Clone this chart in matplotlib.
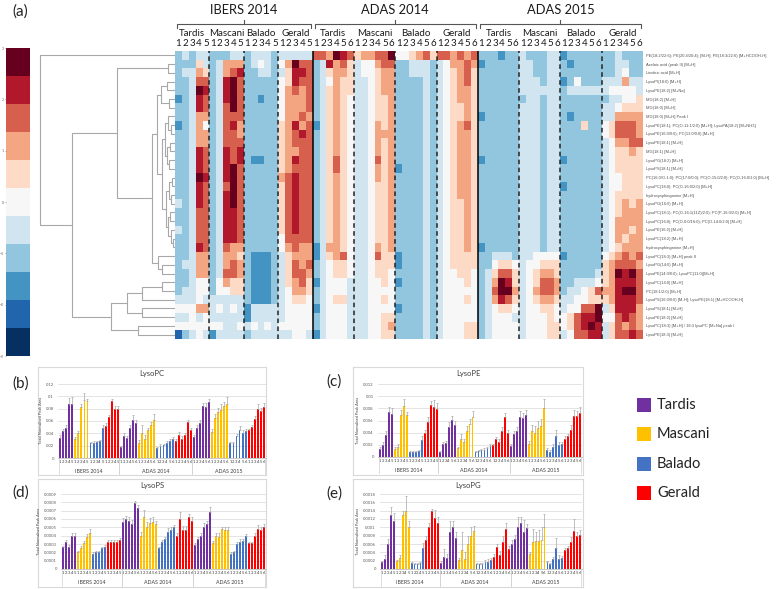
import numpy as np
import matplotlib
matplotlib.use('Agg')
import matplotlib.pyplot as plt
from matplotlib.transforms import blended_transform_factory
from matplotlib.patches import Rectangle
from matplotlib.lines import Line2D

W, H = 778, 589

sites = ['IBERS 2014', 'ADAS 2014', 'ADAS 2015']
reps = [5, 6, 6]
cultivars = ['Tardis', 'Mascani', 'Balado', 'Gerald']
cult_colors = ['#7030A0', '#FFC000', '#4472C4', '#FF0000']

metabolites = [
    'PE(18:2/22:6); PE(20:4/20:4); [M-H]; PE(18:3/22:6) [M+HCOOH-H]',
    'Azelaic acid (peak II) [M+H]',
    'Linoleic acid [M+H]',
    'LysoPI(18:0) [M+H]',
    'LysoPE(18:2) [M+Na]',
    'MG(18:2) [M+H]',
    'MG(18:0) [M+H]',
    'MG(18:0) [M+H] Peak I',
    'LysoPE(18:1); PC(O-11:1/2:0) [M+H]; LysoPA(18:2) [M+NH3]',
    'LysoPE(16:0/0:0); PC(13:0/0:0) [M+H]',
    'LysoPE(18:1) [M+H]',
    'MG(18:1) [M+H]',
    'LysoPG(18:2) [M+H]',
    'LysoPS(18:1) [M+H]',
    'PC(16:0/O-1:0); PC(17:0/0:0); PC(O-15:0/2:0); PC(O-16:0/1:0) [M+H]',
    'LysoPC(18:0); PC(O-16:0/2:0) [M+H]',
    'hydroxysphinganine [M+H]',
    'LysoPG(16:0) [M+H]',
    'LysoPC(18:1); PC(O-16:1(11Z)/2:0); PC(P-16:0/2:0) [M+H]',
    'LysoPC(16:0); PC(O-0:0/16:0); PC(O-14:0/2:0) [M+H]',
    'LysoPE(16:2) [M+H]',
    'LysoPC(18:2) [M+H]',
    'hydroxysphinganine [M+H]',
    'LysoPC(18:3) [M+H] peak II',
    'LysoPG(14:0) [M+H]',
    'LysoPE(14:0/0:0); LysoPC(11:0)[M+H]',
    'LysoPC(14:0) [M+H]',
    'PC(18:1/2:0) [M+H]',
    'LysoPS(16:0/0:0) [M-H]; LysoPE(18:1) [M+HCOOH-H]',
    'LysoPS(18:1) [M+H]',
    'LysoPE(18:2) [M+H]',
    'LysoPC(18:3) [M+H] / 18:3 lysoPC [M+Na] peak I',
    'LysoPE(18:3) [M+H]',
]

# colour level per cell, 0 (dark blue) .. A (dark red)
# IBERS T M B G | ADAS14 T M B G | ADAS15 T M B G
heat_rows = [
    '34344 33344 34443 44444  887A98 67788A 556786 887878  333233 433344 233333 334333',
    '33364 34777 34543 57A88  349786 455788 334443 457787  233333 443344 323333 334433',
    '34476 34789 33443 46998  346776 455677 334443 456786  333333 443344 333333 334533',
    '33488 349A8 33333 56988  345766 445677 333343 456786  333333 444344 235333 444744',
    '334A9 349A8 33333 57878  346766 445677 333343 456776  333333 444444 344444 455554',
    '23498 349A8 33233 57778  346765 445667 333343 456776  333333 344344 333333 344556',
    '33498 348A8 33333 57778  346765 445667 333343 456676  333333 444344 333333 445666',
    '33477 34888 33333 57787  346765 445667 333343 456676  233333 444344 323333 447777',
    '23475 34897 33333 67978  246765 445767 333343 456786  333333 444344 333633 568887',
    '33477 34887 33333 67898  346765 445777 333343 456776  333333 444344 333333 568887',
    '33477 34888 33333 67888  346765 445767 333343 456776  333333 444344 333333 457788',
    '33498 34989 33333 67788  346765 445767 333343 456776  333333 444344 333333 456676',
    '33498 34989 32233 67988  346865 445867 333343 456776  233333 444344 233333 456666',
    '33498 349A8 33333 67888  346865 445767 233343 456776  333333 444344 333333 456666',
    '334A9 349A8 33333 78988  346765 445767 333343 456776  333333 444344 333333 455666',
    '33498 348A8 33333 68988  346765 445667 333343 456776  333333 444344 233333 455666',
    '33498 349A8 33333 68988  346765 445667 333343 456776  333333 444344 333333 456666',
    '43498 349A8 33333 68988  346765 445667 333343 456676  333333 444344 333333 456767',
    '33488 34998 33333 68988  346765 445667 333343 456676  333333 444344 333333 456777',
    '33488 34998 33333 68988  346765 445667 333343 456676  333333 444344 333333 457777',
    '43488 34998 33333 68988  346765 445667 333343 456676  333333 444344 333333 457767',
    '33488 34998 33333 58888  346765 445667 333343 456676  333333 444344 333333 457677',
    '33498 34877 33333 57877  247765 445767 333343 456676  233333 444344 333333 456777',
    '33477 34776 32223 46777  246785 445866 233343 456666  334443 445555 233333 567878',
    '34477 34787 32223 46878  345665 445666 233343 456666  335665 455666 333333 678887',
    '33477 34887 32223 46887  345665 445665 333343 455665  346886 456776 333334 67A9A8',
    '33455 35766 32223 46786  245554 445565 233343 455565  347A96 456887 334445 679998',
    '34455 35566 32223 45776  345554 445555 333343 455555  348AA7 457887 344568 779AA8',
    '44454 44444 32223 45665  345664 445565 333343 455565  347986 456776 445566 679998',
    '55577 45454 24444 45555  245554 445555 233343 455555  345665 455665 45588A 469997',
    '44545 44444 24444 45555  345554 445566 333343 455555  345554 455565 56899A 558987',
    '55555 55445 45454 55555  345554 445567 333343 455566  345555 455566 5689A9 468787',
    '13454 24444 34444 44554  245554 445566 333343 455566  345555 455566 458899 468898',
]

# dendrogram: (merge distance, upper child, lower child); ints are heatmap rows
dendro_tree = (135, 0, (103,
    (58, (7, 1, 2),
         (23, (18, (14, (8, 3, 4), (6, 5, 6)),
                   (13, (10, (7, 7, (4, 8, 9)), (8, (5, 10, 11), (6, 12, 13))),
                        (9, (6, (3, 14, 15), (4, 16, 17)),
                            (7, (5, 18, 19), (4, 20, (2, 21, 22)))))),
              (17, 23, (13, 24, 25)))),
    (64, (48, (33, (13, 26, 27), 28), (33, 29, 30)), (37, 31, 32))))

lysopc = [0.033, 0.043, 0.048, 0.087, 0.087, 0.031, 0.040, 0.082, 0.094, 0.092,
          0.024, 0.025, 0.026, 0.027, 0.048, 0.052, 0.066, 0.092, 0.080, 0.080,
          0.018, 0.036, 0.032, 0.048, 0.062, 0.057, 0.025, 0.040, 0.031, 0.045, 0.053, 0.062,
          0.016, 0.020, 0.021, 0.024, 0.028, 0.031, 0.028, 0.038, 0.031, 0.038, 0.058, 0.045,
          0.034, 0.049, 0.056, 0.084, 0.082, 0.091, 0.042, 0.065, 0.075, 0.078, 0.085, 0.087,
          0.024, 0.024, 0.035, 0.045, 0.040, 0.043, 0.045, 0.050, 0.063, 0.079, 0.076, 0.083]
lysopc_err = [0.004, 0.004, 0.005, 0.010, 0.012, 0.003, 0.004, 0.006, 0.011, 0.004,
              0.002, 0.002, 0.002, 0.003, 0.005, 0.005, 0.004, 0.003, 0.005, 0.005,
              0.002, 0.004, 0.003, 0.006, 0.008, 0.005, 0.005, 0.013, 0.006, 0.004, 0.005, 0.009,
              0.002, 0.002, 0.002, 0.003, 0.003, 0.003, 0.003, 0.004, 0.004, 0.003, 0.004, 0.003,
              0.003, 0.005, 0.006, 0.006, 0.008, 0.004, 0.005, 0.006, 0.006, 0.010, 0.006, 0.012,
              0.002, 0.002, 0.004, 0.007, 0.005, 0.004, 0.002, 0.003, 0.005, 0.008, 0.005, 0.006]

lysope = [0.0013, 0.0020, 0.0036, 0.0074, 0.0070, 0.0013, 0.0016, 0.0069, 0.0084, 0.0069,
          0.0008, 0.0008, 0.0008, 0.0010, 0.0028, 0.0039, 0.0058, 0.0085, 0.0082, 0.0079,
          0.0008, 0.0021, 0.0023, 0.0049, 0.0061, 0.0053, 0.0014, 0.0030, 0.0024, 0.0042, 0.0054, 0.0066,
          0.0009, 0.0010, 0.0011, 0.0012, 0.0014, 0.0018, 0.0019, 0.0029, 0.0025, 0.0043, 0.0066, 0.0040,
          0.0018, 0.0037, 0.0043, 0.0066, 0.0064, 0.0069, 0.0021, 0.0043, 0.0040, 0.0047, 0.0051, 0.0080,
          0.0012, 0.0009, 0.0017, 0.0034, 0.0020, 0.0022, 0.0030, 0.0034, 0.0045, 0.0068, 0.0068, 0.0073]
lysope_err = [0.0003, 0.0004, 0.0006, 0.0009, 0.0010, 0.0003, 0.0006, 0.0008, 0.0011, 0.0005,
              0.0002, 0.0002, 0.0002, 0.0002, 0.0006, 0.0005, 0.0007, 0.0007, 0.0011, 0.0009,
              0.0002, 0.0004, 0.0004, 0.0009, 0.0007, 0.0007, 0.0003, 0.0008, 0.0005, 0.0009, 0.0008, 0.0009,
              0.0001, 0.0002, 0.0002, 0.0002, 0.0002, 0.0003, 0.0003, 0.0004, 0.0005, 0.0007, 0.0006, 0.0005,
              0.0003, 0.0006, 0.0007, 0.0010, 0.0008, 0.0009, 0.0006, 0.0010, 0.0011, 0.0012, 0.0011, 0.0015,
              0.0003, 0.0002, 0.0004, 0.0010, 0.0004, 0.0003, 0.0004, 0.0004, 0.0007, 0.0010, 0.0008, 0.0009]

lysops = [0.00026, 0.00032, 0.00027, 0.00040, 0.00040, 0.00020, 0.00025, 0.00031, 0.00038, 0.00043,
          0.00018, 0.00020, 0.00020, 0.00025, 0.00026, 0.00033, 0.00033, 0.00033, 0.00033, 0.00035,
          0.00057, 0.00060, 0.00058, 0.00054, 0.00079, 0.00073, 0.00040, 0.00062, 0.00050, 0.00055, 0.00057, 0.00054,
          0.00025, 0.00032, 0.00036, 0.00045, 0.00047, 0.00050, 0.00040, 0.00060, 0.00047, 0.00047, 0.00062, 0.00058,
          0.00029, 0.00036, 0.00040, 0.00051, 0.00054, 0.00068, 0.00031, 0.00040, 0.00039, 0.00048, 0.00047, 0.00047,
          0.00018, 0.00020, 0.00030, 0.00033, 0.00034, 0.00040, 0.00031, 0.00031, 0.00040, 0.00048, 0.00047, 0.00050]
lysops_err = [0.00002, 0.00003, 0.00002, 0.00003, 0.00003, 0.00002, 0.00003, 0.00003, 0.00004, 0.00005,
              0.00002, 0.00002, 0.00002, 0.00002, 0.00003, 0.00002, 0.00002, 0.00002, 0.00002, 0.00002,
              0.00004, 0.00004, 0.00004, 0.00005, 0.00003, 0.00004, 0.00004, 0.00009, 0.00006, 0.00006, 0.00005, 0.00004,
              0.00002, 0.00003, 0.00003, 0.00004, 0.00004, 0.00003, 0.00003, 0.00009, 0.00005, 0.00005, 0.00004, 0.00004,
              0.00002, 0.00003, 0.00003, 0.00004, 0.00004, 0.00006, 0.00003, 0.00003, 0.00004, 0.00003, 0.00003, 0.00003,
              0.00002, 0.00002, 0.00002, 0.00003, 0.00002, 0.00002, 0.00002, 0.00002, 0.00003, 0.00005, 0.00004, 0.00004]

lysopg = [0.00017, 0.00025, 0.00060, 0.00130, 0.00115, 0.00020, 0.00027, 0.00130, 0.00140, 0.00100,
          0.00015, 0.00012, 0.00012, 0.00015, 0.00050, 0.00070, 0.00100, 0.00140, 0.00122, 0.00110,
          0.00015, 0.00030, 0.00026, 0.00090, 0.00100, 0.00074, 0.00022, 0.00045, 0.00025, 0.00060, 0.00080, 0.00092,
          0.00013, 0.00012, 0.00012, 0.00018, 0.00018, 0.00022, 0.00030, 0.00052, 0.00033, 0.00065, 0.00095, 0.00048,
          0.00060, 0.00073, 0.00100, 0.00110, 0.00088, 0.00098, 0.00035, 0.00065, 0.00068, 0.00068, 0.00070, 0.00102,
          0.00017, 0.00012, 0.00025, 0.00050, 0.00025, 0.00026, 0.00046, 0.00050, 0.00066, 0.00092, 0.00080, 0.00082]
lysopg_err = [0.00003, 0.00008, 0.00012, 0.00018, 0.00020, 0.00002, 0.00006, 0.00010, 0.00035, 0.00015,
              0.00002, 0.00002, 0.00002, 0.00003, 0.00012, 0.00010, 0.00010, 0.00005, 0.00020, 0.00015,
              0.00004, 0.00017, 0.00010, 0.00025, 0.00015, 0.00015, 0.00004, 0.00045, 0.00015, 0.00020, 0.00020, 0.00012,
              0.00002, 0.00002, 0.00002, 0.00004, 0.00005, 0.00005, 0.00005, 0.00008, 0.00010, 0.00015, 0.00015, 0.00008,
              0.00010, 0.00008, 0.00025, 0.00015, 0.00030, 0.00010, 0.00005, 0.00030, 0.00020, 0.00025, 0.00030, 0.00030,
              0.00003, 0.00002, 0.00005, 0.00025, 0.00008, 0.00005, 0.00005, 0.00005, 0.00010, 0.00028, 0.00010, 0.00012]


def box(x0, y0, x1, y1):
    return [x0 / W, 1 - y1 / H, (x1 - x0) / W, (y1 - y0) / H]


def fy(py):
    return 1 - py / H


# column layout
col_site, col_cult, col_rep = [], [], []
for s, n in enumerate(reps):
    for c in range(len(cultivars)):
        for r in range(n):
            col_site.append(s)
            col_cult.append(c)
            col_rep.append(r + 1)
ncol = len(col_rep)
site_start = [sum(reps[:s]) * 4 for s in range(len(reps))]

plt.rcParams['font.family'] = ['Lato', 'DejaVu Sans']
fig = plt.figure(figsize=(W / 100, H / 100), dpi=100)

# ---- (a) heatmap ----
levels = np.array([[int(ch, 16) for ch in row.replace(' ', '')] for row in heat_rows])
zvals = -3 + (levels + 0.5) * 6 / 11
cmap = plt.get_cmap('RdBu_r', 11)

ax = fig.add_axes(box(175, 51, 643, 339))
im = ax.imshow(zvals, cmap=cmap, vmin=-3, vmax=3, aspect='auto', interpolation='nearest')
ax.set_xticks([])
ax.yaxis.tick_right()
ax.set_yticks(range(len(metabolites)))
ax.set_yticklabels(metabolites, fontsize=2.9, color='#505050', family='Liberation Sans')
ax.tick_params(axis='y', length=0, pad=2)
for sp in ax.spines.values():
    sp.set_visible(False)

for s, n in enumerate(reps):
    x0 = site_start[s]
    if s > 0:
        ax.axvline(x0 - 0.5, color='black', lw=1.1)
    for c in range(1, 4):
        ax.axvline(x0 + c * n - 0.5, color='#222222', lw=1.1, ls=(0, (3, 2.2)))

tr = blended_transform_factory(ax.transData, fig.transFigure)
for i in range(ncol):
    ax.text(i, fy(44), str(col_rep[i]), transform=tr, ha='center', va='center',
            fontsize=7, color='#1a1a1a')
for s, n in enumerate(reps):
    x0 = site_start[s]
    for c, name in enumerate(cultivars):
        ax.text(x0 + c * n + (n - 1) / 2, fy(33), name, transform=tr, ha='center',
                va='center', fontsize=7, color='#1a1a1a')
    xa, xb = x0 - 0.2, x0 + 4 * n - 0.8
    xm = (xa + xb) / 2
    ax.add_line(Line2D([xa, xa, xb, xb], [fy(28), fy(24), fy(24), fy(28)], transform=tr,
                       color='#555555', lw=0.8, clip_on=False))
    ax.add_line(Line2D([xm, xm], [fy(24), fy(20)], transform=tr, color='#555555', lw=0.8,
                       clip_on=False))
    ax.text(xm, fy(10), sites[s], transform=tr, ha='center', va='center', fontsize=9.3,
            color='#1a1a1a')

# dendrogram
axd = fig.add_axes(box(38, 51, 175, 339))


def draw_tree(node):
    if isinstance(node, int):
        return node, 0.0
    h, upper, lower = node
    yu, hu = draw_tree(upper)
    yl, hl = draw_tree(lower)
    axd.plot([hu, h, h, hl], [yu, yu, yl, yl], color='#a8a8a8', lw=0.8)
    return (yu + yl) / 2, h


draw_tree(dendro_tree)
axd.set_xlim(137, 0)
axd.set_ylim(len(metabolites) - 0.5, -0.5)
axd.axis('off')

# colour key
cax = fig.add_axes(box(6, 48, 30, 356))
cb = fig.colorbar(im, cax=cax, ticks=range(-3, 4))
cb.outline.set_visible(False)
cax.yaxis.set_ticks_position('left')
cax.tick_params(labelsize=2.5, length=1, width=0.4, pad=0.5, colors='#666666')

fig.text(12 / W, fy(12), '(a)', fontsize=11, va='center', color='#222222')

# ---- bar panels ----
panels = [
    ('(b)', 'LysoPC', lysopc, lysopc_err, 0.12, 0.02, (38, 367, 266, 475), (58, 384, 266, 458), (12, 384)),
    ('(c)', 'LysoPE', lysope, lysope_err, 0.012, 0.002, (353, 367, 583, 475), (378, 384, 582, 457), (326, 382)),
    ('(d)', 'LysoPS', lysops, lysops_err, 0.0009, 0.0001, (38, 479, 266, 587), (61, 494, 266, 569), (12, 493)),
    ('(e)', 'LysoPG', lysopg, lysopg_err, 0.0018, 0.0002, (353, 479, 583, 587), (380, 494, 582, 569), (326, 494)),
]
bar_colors = [cult_colors[c] for c in col_cult]
xs = np.arange(ncol)

for tag, title, vals, errs, ymax, step, frame, inner, lab in panels:
    fa = fig.add_axes(box(*frame))
    fa.set_xticks([])
    fa.set_yticks([])
    for sp in fa.spines.values():
        sp.set_color('#d9d9d9')
        sp.set_linewidth(0.8)
    fa.set_zorder(0)

    bx = fig.add_axes(box(*inner))
    bx.set_zorder(1)
    bx.patch.set_alpha(0)
    bx.bar(xs, vals, width=0.62, color=bar_colors, zorder=3)
    bx.errorbar(xs, vals, yerr=[np.zeros(ncol), errs], fmt='none', ecolor='#a6a6a6',
                elinewidth=0.5, capsize=0.8, capthick=0.5, zorder=4)
    bx.set_xlim(-0.7, ncol - 0.3)
    bx.set_ylim(0, ymax)
    ticks = np.round(np.arange(0, ymax + step / 2, step), 6)
    bx.set_yticks(ticks)
    bx.set_yticklabels(['0' if t == 0 else np.format_float_positional(t, trim='-') for t in ticks])
    bx.grid(axis='y', color='#d9d9d9', lw=0.5, zorder=0)
    bx.tick_params(axis='y', length=0, labelsize=3, pad=3, colors='#595959')
    bx.set_xticks(xs)
    bx.set_xticklabels([str(r) for r in col_rep])
    bx.tick_params(axis='x', length=0, labelsize=3.1, pad=1.5, colors='#404040')
    for k in ['top', 'right', 'left']:
        bx.spines[k].set_visible(False)
    bx.spines['bottom'].set_color('#bfbfbf')
    bx.spines['bottom'].set_linewidth(0.6)
    bx.set_ylabel('Total Normalised Peak Area', fontsize=2.8, color='#404040', labelpad=2)
    btr = blended_transform_factory(bx.transData, bx.transAxes)
    for s, n in enumerate(reps):
        x0 = site_start[s]
        bx.text(x0 + (4 * n - 1) / 2, -0.18, sites[s], transform=btr, ha='center', va='center',
                fontsize=3.8, color='#404040')
        for xb in (x0 - 0.5, x0 + 4 * n - 0.5):
            bx.add_line(Line2D([xb, xb], [0, -0.22], transform=btr, color='#d0d0d0', lw=0.5,
                               clip_on=False))
    fig.text((frame[0] + frame[2]) / 2 / W, fy(frame[1] + 6.5), title, ha='center', va='center',
             fontsize=5.5, color='#404040')
    fig.text(lab[0] / W, fy(lab[1]), tag, fontsize=11, va='center', color='#222222')

# legend
for i, name in enumerate(cultivars):
    yc = 405 + i * 29.3
    fig.patches.append(Rectangle((637 / W, fy(yc + 7)), 14 / W, 14 / H, transform=fig.transFigure,
                                 facecolor=cult_colors[i], edgecolor='none'))
    fig.text(657 / W, fy(yc), name, fontsize=10.5, va='center', color='#222222')

fig.savefig('out.png', dpi=100)
